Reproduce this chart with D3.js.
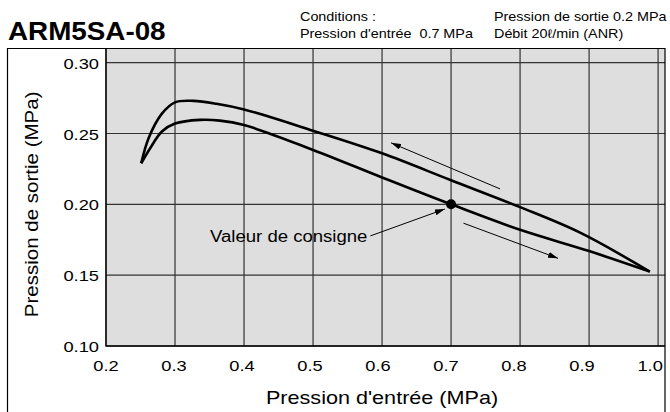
<!DOCTYPE html>
<html lang="fr">
<head>
<meta charset="utf-8">
<script src="https://d3js.org/d3.v7.min.js"></script>
<style>
  body { margin: 0; background: #fff; }
  text { font-family: "Liberation Sans", Arial, Helvetica, sans-serif; fill: #000; }
</style>
</head>
<body>
<svg id="chart" width="670" height="412"></svg>
<script>
// values
const xTicks = [0.2, 0.3, 0.4, 0.5, 0.6, 0.7, 0.8, 0.9, 1.0];
const yTicks = [0.10, 0.15, 0.20, 0.25, 0.30];

// upper branch (inlet pressure decreasing)
const upperX = [0.251, 0.262, 0.281, 0.300, 0.327, 0.360, 0.400, 0.500, 0.600, 0.700, 0.800, 0.887, 0.988];
const upperY = [0.229, 0.247, 0.264, 0.272, 0.273, 0.271, 0.267, 0.252, 0.236, 0.217, 0.198, 0.180, 0.1525];

// lower branch (inlet pressure increasing)
const lowerX = [0.251, 0.264, 0.281, 0.300, 0.336, 0.365, 0.400, 0.500, 0.600, 0.700, 0.800, 0.900, 0.988];
const lowerY = [0.229, 0.2396, 0.2514, 0.257, 0.2596, 0.2591, 0.256, 0.2384, 0.219, 0.200, 0.182, 0.167, 0.1525];

const setPoint = [0.7, 0.2];

// arrows: [x1, y1, x2, y2] in data units
const arrows = [
  [0.771, 0.2109, 0.613, 0.2434],
  [0.718, 0.1867, 0.855, 0.1619],
  [0.583, 0.1777, 0.691, 0.1967]
];

const svg = d3.select("#chart");

const x = d3.scaleLinear().domain([0.2, 1.01]).range([106, 665]);
const y = d3.scaleLinear().domain([0.10, 0.31]).range([346, 48.5]);

// text in the reference is a little wider than Arial, so stretch it
function label(px, py, str, size, sx, anchor, extra) {
  const t = svg.append("text")
    .attr("transform", `translate(${px},${py}) ${extra || ""} scale(${sx},1)`)
    .attr("font-size", size)
    .attr("text-anchor", anchor || "start")
    .style("white-space", "pre")
    .text(str);
  return t;
}

// arrowhead
svg.append("defs").append("marker")
  .attr("id", "head")
  .attr("viewBox", "0 0 10 6")
  .attr("refX", 10).attr("refY", 3)
  .attr("markerWidth", 10).attr("markerHeight", 6)
  .attr("markerUnits", "userSpaceOnUse")
  .attr("orient", "auto")
  .append("path").attr("d", "M0,0 L10,3 L0,6 Z").attr("fill", "#000");

// plot background
svg.append("rect")
  .attr("x", x(0.2)).attr("y", y(0.31))
  .attr("width", x(1.01) - x(0.2)).attr("height", y(0.10) - y(0.31))
  .attr("fill", "#dedede");

// grid
svg.append("g").selectAll("line").data(xTicks).join("line")
  .attr("x1", d => x(d)).attr("x2", d => x(d))
  .attr("y1", y(0.31)).attr("y2", y(0.10))
  .attr("stroke", "#333").attr("stroke-width", 1.2);
svg.append("g").selectAll("line").data(yTicks).join("line")
  .attr("x1", x(0.2)).attr("x2", x(1.01))
  .attr("y1", d => y(d)).attr("y2", d => y(d))
  .attr("stroke", "#333").attr("stroke-width", 1.2);

// outer frame
svg.append("path")
  .attr("d", "M7.5,414 V48.5 H665 V414")
  .attr("fill", "none").attr("stroke", "#000").attr("stroke-width", 1.2);

// axis lines
svg.append("path")
  .attr("d", `M${x(0.2)},${y(0.31)} V${y(0.10)} H${x(1.01)}`)
  .attr("fill", "none").attr("stroke", "#000").attr("stroke-width", 1.3);

// tick labels (the reference labels drift slightly left towards 1.0)
xTicks.forEach(d => label(x(d) - (d - 0.2) * 10, 371, d.toFixed(1), 15, 1.22, "middle"));
yTicks.forEach(d => label(99, y(d) + 6, d.toFixed(2), 15, 1.22, "end"));

// axis titles
label((x(0.2) + x(1.0)) / 2, 404, "Pression d'entrée (MPa)", 18, 1.2, "middle");
label(38, y(0.20), "Pression de sortie (MPa)", 18, 1.14, "middle", "rotate(-90)");

// curves
const line = d3.line().x(d => x(d[0])).y(d => y(d[1])).curve(d3.curveCatmullRom.alpha(0.5));
svg.append("path")
  .datum(d3.zip(upperX, upperY))
  .attr("d", line).attr("fill", "none").attr("stroke", "#000").attr("stroke-width", 2.6)
  .attr("stroke-linejoin", "round");
svg.append("path")
  .datum(d3.zip(lowerX, lowerY))
  .attr("d", line).attr("fill", "none").attr("stroke", "#000").attr("stroke-width", 2.6)
  .attr("stroke-linejoin", "round");

// set point
svg.append("circle")
  .attr("cx", x(setPoint[0])).attr("cy", y(setPoint[1])).attr("r", 5)
  .attr("fill", "#000");

// arrows
svg.append("g").selectAll("line").data(arrows).join("line")
  .attr("x1", d => x(d[0])).attr("y1", d => y(d[1]))
  .attr("x2", d => x(d[2])).attr("y2", d => y(d[3]))
  .attr("stroke", "#000").attr("stroke-width", 1)
  .attr("marker-end", "url(#head)");

label(210, 242, "Valeur de consigne", 16, 1.16);

// title and conditions
label(8, 40, "ARM5SA-08", 26, 1.07).attr("font-weight", "bold");
label(300, 21, "Conditions :", 12.5, 1.15);
label(300, 38, "Pression d'entrée  0.7 MPa", 12.5, 1.15);
label(494, 21, "Pression de sortie 0.2 MPa", 12.5, 1.15);
label(494, 38, "Débit 20ℓ/min (ANR)", 12.5, 1.15);
</script>
</body>
</html>
